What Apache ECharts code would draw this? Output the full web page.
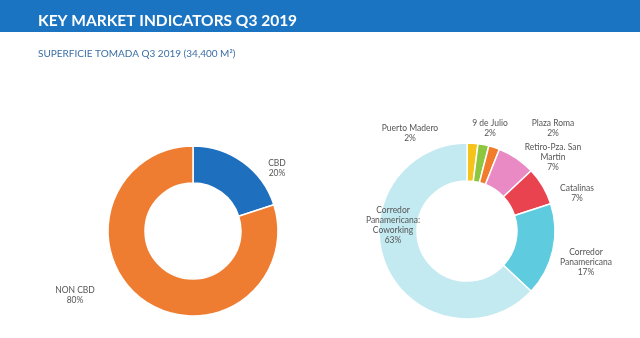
<!DOCTYPE html>
<html><head><meta charset="utf-8">
<script src="https://cdn.jsdelivr.net/npm/echarts@6/dist/echarts.min.js"></script>
<style>html,body{margin:0;padding:0;background:#fff}#c{width:640px;height:338px}</style>
</head><body><div id="c"></div>
<script>
const titleText = 'KEY MARKET INDICATORS Q3 2019';
const subtitleText = 'SUPERFICIE TOMADA Q3 2019 (34,400 M²)';
const leftNames = ['CBD', 'NON CBD'];
const leftValues = [20, 80];
const leftColors = ['#1f6fbf', '#ef7d31'];
const rightNames = ['Puerto Madero', '9 de Julio', 'Plaza Roma', 'Retiro-Pza. San\nMartin', 'Catalinas', 'Corredor\nPanamericana', 'Corredor\nPanamericana:\nCoworking'];
const rightValues = [2, 2, 2, 7, 7, 17, 63];
const rightColors = ['#f6c31a', '#8dc63f', '#f07c2c', '#e98ac4', '#e8434f', '#5ecbdf', '#c3e9f1'];

const leftLabelPos = {'CBD': [277, 168], 'NON CBD': [75, 295]};
const rightLabelPos = {
  'Puerto Madero': [410, 133],
  '9 de Julio': [490, 128],
  'Plaza Roma': [553, 128],
  'Retiro-Pza. San\nMartin': [553, 157],
  'Catalinas': [577, 193],
  'Corredor\nPanamericana': [586, 262],
  'Corredor\nPanamericana:\nCoworking': [393, 225]
};

const labelStyle = {
  show: true,
  formatter: p => p.name + '\n' + p.value + '%',
  color: '#555',
  fontFamily: 'Lato',
  fontSize: 8.5,
  lineHeight: 10,
  align: 'center',
  overflow: 'none',
  width: 200
};

function mk(names, values, colors) {
  return names.map((n, i) => ({name: n, value: values[i], itemStyle: {color: colors[i]}}));
}
function layoutFor(map) {
  return function (params) {
    const name = params.text.split('\n').slice(0, -1).join('\n');
    const p = map[name];
    if (!p) return {};
    return {x: p[0], y: p[1], align: 'center', verticalAlign: 'middle'};
  };
}

const chart = echarts.init(document.getElementById('c'), null, {renderer: 'canvas'});
chart.setOption({
  animation: false,
  graphic: [{type: 'rect', shape: {x: 0, y: 0, width: 640, height: 32}, style: {fill: '#1a74c2'}, z: 0}],
  title: [
    {text: titleText, left: 33, top: 8, textStyle: {color: '#fff', fontFamily: 'Lato', fontWeight: 'bold', fontSize: 15.5}},
    {text: subtitleText, left: 33, top: 44, textStyle: {color: '#3b6ea5', fontFamily: 'Lato', fontWeight: 'normal', fontSize: 10}}
  ],
  series: [
    {
      type: 'pie', center: [193, 231], radius: [48, 85], startAngle: 90,
      itemStyle: {borderColor: '#fff', borderWidth: 1.5},
      label: labelStyle, labelLine: {show: false},
      labelLayout: layoutFor(leftLabelPos),
      data: mk(leftNames, leftValues, leftColors)
    },
    {
      type: 'pie', center: [467, 231], radius: [50, 88], startAngle: 90,
      itemStyle: {borderColor: '#fff', borderWidth: 1.5},
      label: labelStyle, labelLine: {show: false},
      labelLayout: layoutFor(rightLabelPos),
      data: mk(rightNames, rightValues, rightColors)
    }
  ]
});
</script></body></html>
